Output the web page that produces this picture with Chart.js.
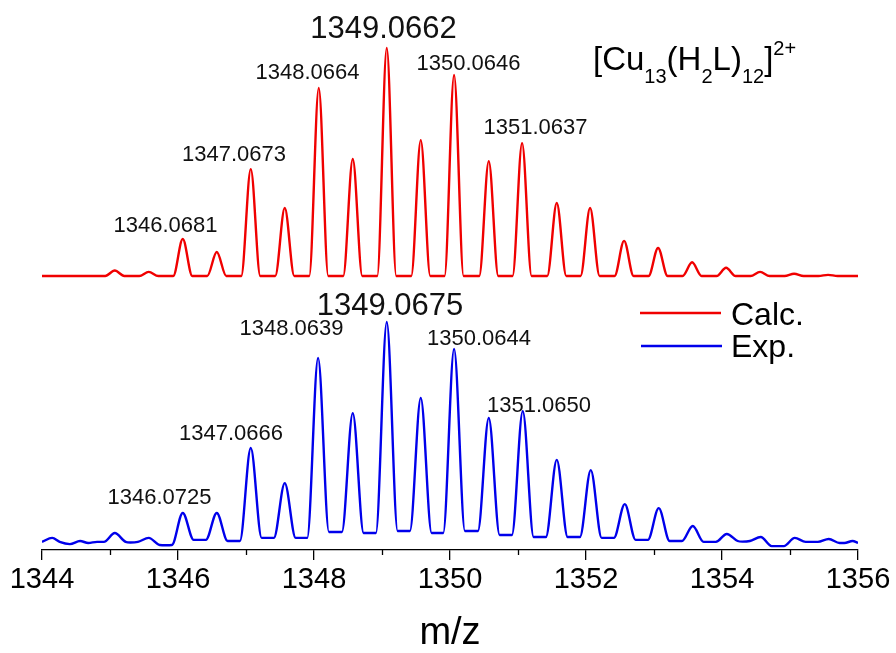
<!DOCTYPE html>
<html>
<head>
<meta charset="utf-8">
<script src="https://cdn.jsdelivr.net/npm/chart.js@4.4.1/dist/chart.umd.min.js"></script>
<style>
  html, body { margin: 0; padding: 0; background: #fff; }
  canvas { display: block; }
</style>
</head>
<body>
<canvas id="Chart" width="896" height="653"></canvas>
<script>
const FONT = '"Liberation Sans", Arial, sans-serif';

// x axis
const xTicks = [1344, 1346, 1348, 1350, 1352, 1354, 1356];
const xMinorTicks = [1345, 1347, 1349, 1351, 1353, 1355];

// calculated isotope pattern, relative intensity (%)
const calcMz  = [1345.07, 1345.57, 1346.07, 1346.57, 1347.07, 1347.57, 1348.07, 1348.57, 1349.07, 1349.57, 1350.06,
                 1350.57, 1351.06, 1351.57, 1352.06, 1352.56, 1353.06, 1353.56, 1354.06, 1354.56, 1355.06, 1355.56];
const calcInt = [2.4, 1.8, 16.2, 10.5, 46.9, 29.8, 82.5, 51.3, 100, 59.6, 88.2,
                 50.4, 58.3, 32.0, 29.8, 15.4, 12.3, 6.0, 3.6, 1.8, 1.0, 0.5];

// experimental spectrum, relative intensity (%)
const expMz  = [1345.07, 1345.57, 1346.07, 1346.57, 1347.07, 1347.57, 1348.06, 1348.57, 1349.07, 1349.57, 1350.06,
                1350.57, 1351.07, 1351.57, 1352.07, 1352.57, 1353.07, 1353.57, 1354.07, 1354.57, 1355.07, 1355.57];
const expInt = [4.5, 2.3, 13.6, 13.6, 43.0, 27.1, 83.7, 58.8, 100, 65.6, 87.8,
                56.6, 59.7, 37.6, 33.0, 17.6, 15.8, 7.7, 4.1, 2.7, 2.3, 1.8];
// level of the trace between neighbouring peaks (first = left of first peak, last = right of last peak)
const expValley = [0.5, 0.5, -0.9, 1.4, 0.9, 2.3, 2.3, 5.0, 4.5, 5.4, 4.5, 5.4,
                   3.6, 2.7, 2.7, 2.3, 1.4, 0.9, 0.5, 0.9, -1.4, 0.5, 0];
// baseline noise in the flat parts
const expNoiseMz  = [1344.15, 1344.26, 1344.41, 1344.56, 1344.68, 1344.81, 1345.30, 1345.82,
                     1354.30, 1354.88, 1355.30, 1355.80, 1355.92];
const expNoiseInt = [2.3, 0.5, -0.5, 0.9, 0, 0.5, 0.2, -1.0,
                     0.6, -1.4, 0.5, 0, 0.9];

// peak labels
const calcLabels = ['1346.0681', '1347.0673', '1348.0664', '1349.0662', '1350.0646', '1351.0637'];
const expLabels  = ['1346.0725', '1347.0666', '1348.0639', '1349.0675', '1350.0644', '1351.0650'];

// where the labels sit (centre m/z, baseline intensity on the own axis, font px)
const calcLabelPos = [
  {x: 1345.816, y: 19.3, size: 22}, {x: 1346.824, y: 50.4, size: 22}, {x: 1347.904, y: 86.4, size: 22},
  {x: 1349.022, y: 104.4, size: 31}, {x: 1350.272, y: 90.4, size: 22}, {x: 1351.257, y: 62.3, size: 22}
];
const expLabelPos = [
  {x: 1345.728, y: 17.6, size: 22}, {x: 1346.779, y: 46.6, size: 22}, {x: 1347.669, y: 94.1, size: 22},
  {x: 1349.118, y: 103.2, size: 31}, {x: 1350.426, y: 89.6, size: 22}, {x: 1351.309, y: 59.3, size: 22}
];

function trace(mz, intens, valley, noiseMz, noiseInt, w) {
  const lvl = i => valley ? valley[i] : 0;
  const pts = [
    {x: xTicks[0], y: lvl(0)},
    {x: xTicks[xTicks.length - 1], y: lvl(mz.length)}
  ];
  mz.forEach((m, i) => {
    pts.push({x: m - w, y: lvl(i)}, {x: m, y: intens[i]}, {x: m + w, y: lvl(i + 1)});
  });
  (noiseMz || []).forEach((m, i) => pts.push({x: m, y: noiseInt[i]}));
  return pts.sort((a, b) => a.x - b.x);
}

const extras = {
  id: 'extras',
  afterDraw(chart) {
    const ctx = chart.ctx;
    const x = chart.scales.x;
    const yc = chart.scales.yCalc;
    const ye = chart.scales.yExp;

    // minor ticks
    ctx.save();
    ctx.strokeStyle = '#000';
    ctx.lineWidth = 1.3;
    xMinorTicks.forEach(v => {
      const px = Math.round(x.getPixelForValue(v)) + 0.5;
      ctx.beginPath();
      ctx.moveTo(px, x.top);
      ctx.lineTo(px, x.top + 5);
      ctx.stroke();
    });

    // peak labels
    ctx.fillStyle = '#111';
    ctx.textAlign = 'center';
    ctx.textBaseline = 'alphabetic';
    calcLabels.forEach((t, i) => {
      const p = calcLabelPos[i];
      ctx.font = p.size + 'px ' + FONT;
      ctx.fillText(t, x.getPixelForValue(p.x), yc.getPixelForValue(p.y));
    });
    expLabels.forEach((t, i) => {
      const p = expLabelPos[i];
      ctx.font = p.size + 'px ' + FONT;
      ctx.fillText(t, x.getPixelForValue(p.x), ye.getPixelForValue(p.y));
    });

    // legend
    ctx.lineWidth = 2.5;
    ctx.strokeStyle = chart.data.datasets[0].borderColor;
    ctx.beginPath(); ctx.moveTo(640, 313); ctx.lineTo(721, 313); ctx.stroke();
    ctx.strokeStyle = chart.data.datasets[1].borderColor;
    ctx.beginPath(); ctx.moveTo(641, 346); ctx.lineTo(722, 346); ctx.stroke();
    ctx.textAlign = 'left';
    ctx.font = '32px ' + FONT;
    ctx.fillStyle = '#000';
    ctx.fillText(chart.data.datasets[0].label, 731, 325);
    ctx.fillText(chart.data.datasets[1].label, 731, 357);

    // formula [Cu13(H2L)12]2+
    const parts = [['[Cu', 0], ['13', 1], ['(H', 0], ['2', 1], ['L)', 0], ['12', 1], [']', 0], ['2+', 2]];
    let cx = 593;
    const base = 70;
    parts.forEach(([t, k]) => {
      ctx.font = (k === 0 ? 33 : 20) + 'px ' + FONT;
      const dy = k === 1 ? 13 : (k === 2 ? -15 : 0);
      ctx.fillText(t, cx, base + dy);
      cx += ctx.measureText(t).width;
    });
    ctx.restore();
  }
};

const data = {
  datasets: [{
    label: 'Calc.',
    data: trace(calcMz, calcInt, null, null, null, 0.14),
    borderColor: 'rgb(240, 0, 0)',
    borderWidth: 2.4,
    pointRadius: 0,
    cubicInterpolationMode: 'monotone',
    yAxisID: 'yCalc'
  }, {
    label: 'Exp.',
    data: trace(expMz, expInt, expValley, expNoiseMz, expNoiseInt, 0.16),
    borderColor: 'rgb(0, 0, 235)',
    borderWidth: 2.4,
    pointRadius: 0,
    cubicInterpolationMode: 'monotone',
    yAxisID: 'yExp'
  }]
};

const config = {
  type: 'line',
  data,
  options: {
    responsive: false,
    animation: false,
    layout: { padding: { left: 42, right: 38, top: 20, bottom: 0 } },
    scales: {
      x: {
        type: 'linear',
        min: xTicks[0],
        max: xTicks[xTicks.length - 1],
        afterBuildTicks: s => { s.ticks = xTicks.map(v => ({ value: v })); },
        afterFit: s => { s.height = 103; },
        border: { color: '#000', width: 1.3 },
        grid: { drawOnChartArea: false, tickLength: 10, color: '#000', lineWidth: 1.3 },
        ticks: {
          color: '#000',
          padding: 3,
          maxRotation: 0,
          font: { family: FONT, size: 29 },
          callback: v => String(v)
        },
        title: {
          display: true,
          text: 'm/z',
          color: '#000',
          font: { family: FONT, size: 38 },
          padding: { top: 0, bottom: -3 }
        }
      },
      yCalc: { type: 'linear', display: false, min: -120.2, max: 112.3 },
      yExp:  { type: 'linear', display: false, min: -3.17, max: 236.7 }
    },
    plugins: {
      legend: { display: false },
      tooltip: { enabled: false }
    }
  },
  plugins: [extras]
};

const myChart = new Chart(document.getElementById('Chart'), config);
</script>
</body>
</html>
